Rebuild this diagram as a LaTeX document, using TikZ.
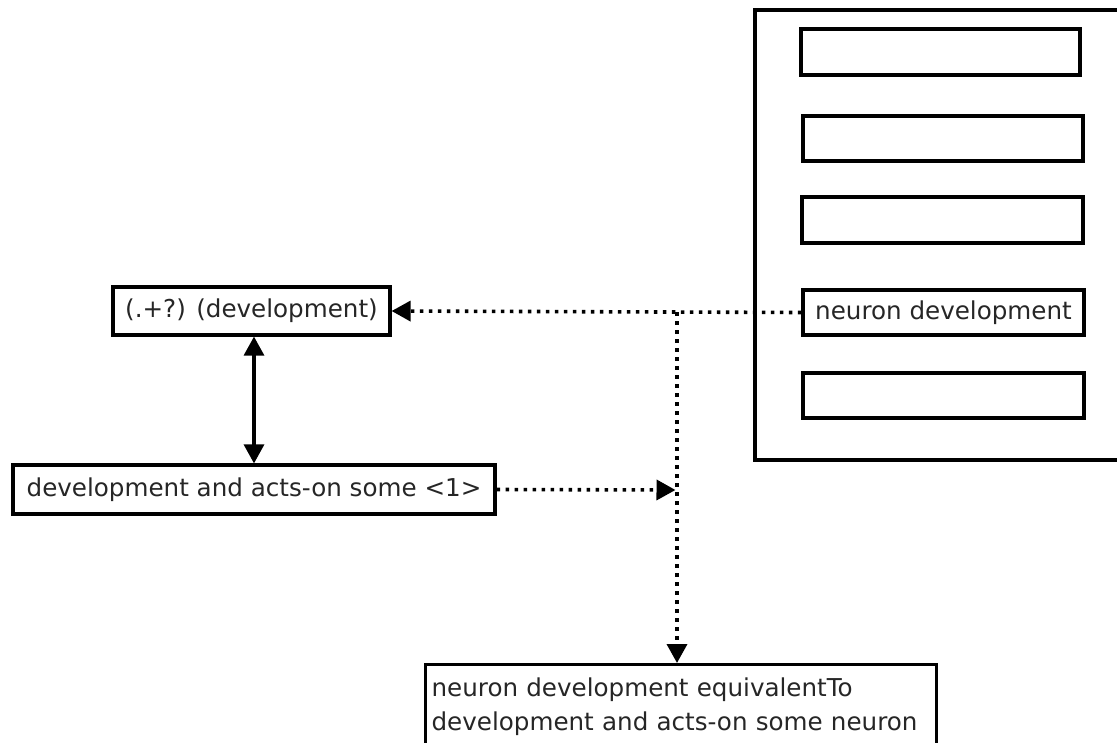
\documentclass[tikz,border=0pt]{standalone}
\usepackage{fontspec}
\setmainfont{DejaVu Sans}
\usetikzlibrary{arrows.meta}

\tikzset{
  box/.style={draw=black, line width=3.2pt, fill=white, inner sep=0pt,
    text=black!85, font=\fontsize{24.6}{34}\selectfont},
  slot/.style={box, minimum width=#1},
  joint/.style={line width=3.2pt, black},
  tip/.style={-{Triangle[length=19pt, width=20pt]}},
  dotline/.style={line width=3.6pt, black, dash pattern=on 3.6pt off 5.4pt},
}

\begin{document}
\begin{tikzpicture}[x=1pt, y=-1pt]
  \useasboundingbox (0,0) rectangle (1117,742);
  \clip (0,0) rectangle (1117,742);
  \fill[white] (0,0) rectangle (1117,742);

  % container panel on the right, running past the edge
  \draw[line width=3.6pt] (1140,10) -- (755,10) -- (755,460) -- (1140,460);

  % the five slots in the panel
  \node[box, minimum width=279pt, minimum height=46pt] (s1) at (940.5,52) {};
  \node[box, minimum width=280pt, minimum height=45pt] (s2) at (943,138.5) {};
  \node[box, minimum width=281pt, minimum height=46pt] (s3) at (942.5,220) {};
  \node[box, minimum width=281pt, minimum height=45pt] (nd) at (943.5,312.5) {neuron development};
  \node[box, minimum width=281pt, minimum height=45pt] (s5) at (943.5,395.5) {};

  % pattern and rewrite nodes
  \node[box, minimum width=277pt, minimum height=48pt] (pat) at (251.5,311) {(.+?) (development)};
  \node[box, minimum width=482pt, minimum height=49pt] (dev) at (254,489.5) {development and acts-on some <1>};

  % resulting axiom, cut by the lower edge
  \node[box, anchor=north west, inner xsep=6pt, inner ysep=13pt,
        text width=499pt, align=left] (eq) at (424,663)
        {neuron development equivalentTo\\development and acts-on some neuron};

  % connectors
  \coordinate (j1) at (677,312);
  \coordinate (j2) at (675.5,490);
  \draw[dotline, tip] (nd.west) -- (pat.east);
  \draw[dotline, tip] (j1) -- (j1 |- eq.north);
  \draw[dotline, tip] (dev.east) -- (j2);
  \draw[joint, {Triangle[length=19pt, width=20pt]}-{Triangle[length=19pt, width=20pt]}]
    (pat.south -| dev.north) -- (dev.north);
\end{tikzpicture}
\end{document}
